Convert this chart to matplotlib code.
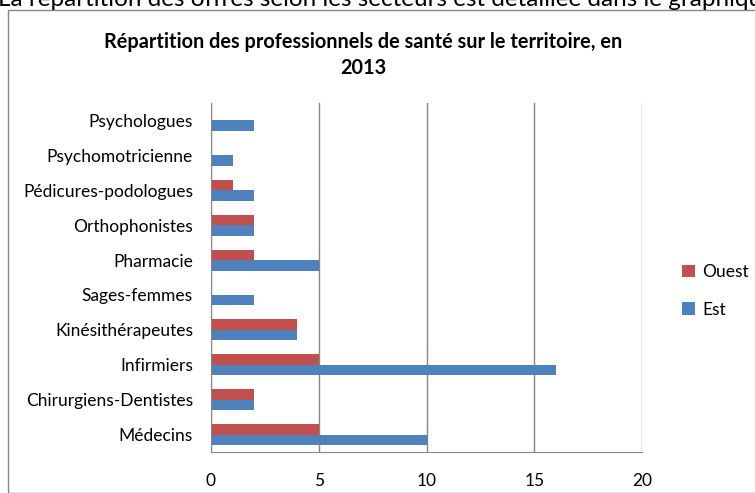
import numpy as np
import matplotlib.pyplot as plt
from matplotlib.patches import Rectangle

# Professions, bottom to top as drawn
categories = ["Médecins", "Chirurgiens-Dentistes", "Infirmiers", "Kinésithérapeutes",
              "Sages-femmes", "Pharmacie", "Orthophonistes", "Pédicures-podologues",
              "Psychomotricienne", "Psychologues"]
ouest = [5, 2, 5, 4, 0, 2, 2, 1, 0, 0]
est = [10, 2, 16, 4, 2, 5, 2, 2, 1, 2]
x_ticks = [0, 5, 10, 15, 20]

plt.rcParams['font.family'] = ['Lato', 'DejaVu Sans']

fig = plt.figure(figsize=(7.55, 4.93), dpi=100)
W, H = 755, 493

# surrounding page text and chart frame
fig.text(-0.003, 1.0, "La répartition des offres selon les secteurs est détaillée dans le graphique",
         fontsize=17.5, ha='left', va='center', color='black')
fig.patches.append(Rectangle((8 / W, 0), 1, 1 - 10 / H, transform=fig.transFigure,
                             fill=False, edgecolor='#868686', linewidth=1.0))

ax = fig.add_axes([211 / W, 1 - 452 / H, (642 - 211) / W, (452 - 103) / H])

y = np.arange(len(categories))
h = 0.3
ax.barh(y + h / 2, ouest, height=h, color='#C0504D', label='Ouest')
ax.barh(y - h / 2, est, height=h, color='#4F81BD', label='Est')

ax.set_xlim(0, 20)
ax.set_ylim(-0.5, len(categories) - 0.5)
ax.set_xticks(x_ticks)
ax.set_yticks(y)
ax.set_yticklabels(categories)
ax.tick_params(axis='both', length=0, labelsize=12.5, colors='black')
ax.tick_params(axis='y', pad=13)
ax.tick_params(axis='x', pad=15)
ax.xaxis.grid(True, color='#868686', linewidth=1.0)
ax.set_axisbelow(True)
for side in ['top', 'right']:
    ax.spines[side].set_visible(False)
for side in ['left', 'bottom']:
    ax.spines[side].set_color('#868686')

fig.text(363 / W, 1 - 42 / H, "Répartition des professionnels de santé sur le territoire, en",
         fontsize=14.3, fontweight='bold', ha='center', va='center')
fig.text(363 / W, 1 - 68 / H, "2013", fontsize=14.3, fontweight='bold', ha='center', va='center')

fig.legend(loc='upper left', bbox_to_anchor=(682 / W, 1 - 264 / H), frameon=False,
           borderpad=0, borderaxespad=0,
           fontsize=12.5, handlelength=0.75, handleheight=0.75, labelspacing=1.25,
           handletextpad=0.4)

fig.savefig("out.png", dpi=100)
